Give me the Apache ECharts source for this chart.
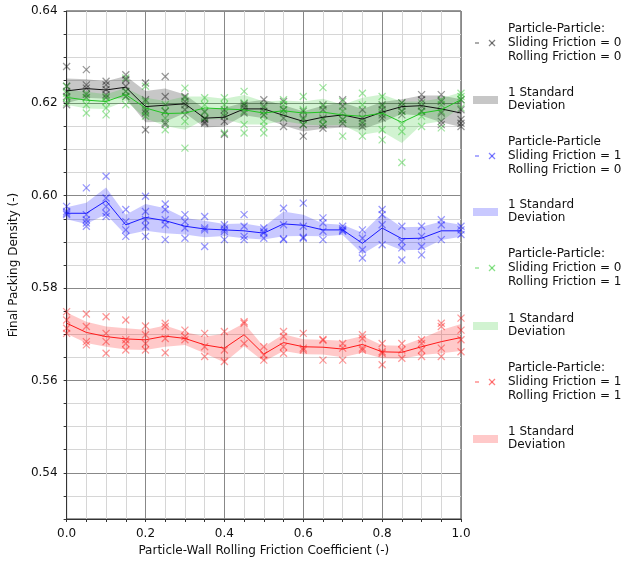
<!DOCTYPE html>
<html>
<head>
<meta charset="utf-8">
<script src="https://cdn.jsdelivr.net/npm/echarts@6/dist/echarts.min.js"></script>
<style>
html,body{margin:0;padding:0;background:#fff;}
#c{width:629px;height:562px;}
</style>
</head>
<body>
<div id="c"></div>
<script>
// ---- DATA ----
const xValues = [0, 0.05, 0.1, 0.15, 0.2, 0.25, 0.3, 0.35, 0.4, 0.45, 0.5, 0.55, 0.6, 0.65, 0.7, 0.75, 0.8, 0.85, 0.9, 0.95, 1.0];

// Sliding 0 / Rolling 0 (black)
const blackMean = [0.6227, 0.6232, 0.6229, 0.6235, 0.6193, 0.6196, 0.6199, 0.6168, 0.6170, 0.6188, 0.6188, 0.6174, 0.6161, 0.6170, 0.6175, 0.6166, 0.6181, 0.6193, 0.6195, 0.6188, 0.6179];
const blackStd = [0.0027, 0.0020, 0.0019, 0.0024, 0.0034, 0.0036, 0.0020, 0.0020, 0.0020, 0.0014, 0.0020, 0.0022, 0.0022, 0.0025, 0.0027, 0.0022, 0.0022, 0.0016, 0.0022, 0.0029, 0.0030];
const blackSamples = [
  [0.6280, 0.6237, 0.6226, 0.6215, 0.6197],
  [0.6273, 0.6240, 0.6233, 0.6219, 0.6213],
  [0.6248, 0.6240, 0.6230, 0.6219, 0.6212],
  [0.6262, 0.6251, 0.6237, 0.6226, 0.6215],
  [0.6244, 0.6208, 0.6186, 0.6179, 0.6143],
  [0.6258, 0.6215, 0.6183, 0.6158, 0.6154],
  [0.6215, 0.6204, 0.6197, 0.6186, 0.6175],
  [0.6181, 0.6167, 0.6160, 0.6157, 0.6165],
  [0.6186, 0.6172, 0.6161, 0.6133],
  [0.6199, 0.6196, 0.6190, 0.6179],
  [0.6208, 0.6194, 0.6183, 0.6175],
  [0.6204, 0.6186, 0.6168, 0.6150],
  [0.6183, 0.6168, 0.6154, 0.6129],
  [0.6197, 0.6186, 0.6168, 0.6154, 0.6146],
  [0.6208, 0.6194, 0.6165, 0.6157],
  [0.6186, 0.6168, 0.6157, 0.6150],
  [0.6197, 0.6186, 0.6175, 0.6168],
  [0.6201, 0.6194, 0.6183, 0.6175],
  [0.6219, 0.6208, 0.6194, 0.6183],
  [0.6219, 0.6204, 0.6179, 0.6161, 0.6154],
  [0.6208, 0.6186, 0.6165, 0.6157, 0.6150]
];

// Sliding 1 / Rolling 0 (blue)
const blueMean = [0.5962, 0.5962, 0.5989, 0.5937, 0.5953, 0.5946, 0.5934, 0.5928, 0.5926, 0.5924, 0.5919, 0.5939, 0.5936, 0.5926, 0.5926, 0.5897, 0.5930, 0.5907, 0.5908, 0.5924, 0.5924];
const blueStd = [0.0013, 0.0023, 0.0029, 0.0022, 0.0029, 0.0027, 0.0018, 0.0018, 0.0013, 0.0016, 0.0014, 0.0027, 0.0023, 0.0014, 0.0011, 0.0023, 0.0031, 0.0025, 0.0025, 0.0020, 0.0013];
const blueSamples = [
  [0.5977, 0.5966, 0.5959, 0.5962],
  [0.6017, 0.5959, 0.5948, 0.5941, 0.5934],
  [0.6042, 0.5995, 0.5977, 0.5962, 0.5955],
  [0.5970, 0.5944, 0.5926, 0.5912],
  [0.5999, 0.5966, 0.5948, 0.5934, 0.5912],
  [0.5982, 0.5970, 0.5948, 0.5937, 0.5905],
  [0.5959, 0.5944, 0.5930, 0.5908],
  [0.5955, 0.5926, 0.5890, 0.5930],
  [0.5937, 0.5923, 0.5905, 0.5928],
  [0.5959, 0.5934, 0.5905, 0.5912],
  [0.5930, 0.5919, 0.5908, 0.5922],
  [0.5973, 0.5937, 0.5905, 0.5907],
  [0.5984, 0.5934, 0.5908, 0.5910],
  [0.5952, 0.5941, 0.5923, 0.5905],
  [0.5934, 0.5923, 0.5928, 0.5925],
  [0.5926, 0.5908, 0.5883, 0.5865],
  [0.5970, 0.5959, 0.5937, 0.5894],
  [0.5934, 0.5901, 0.5887, 0.5861],
  [0.5934, 0.5912, 0.5890, 0.5872],
  [0.5948, 0.5937, 0.5905],
  [0.5934, 0.5926, 0.5916]
];

// Sliding 0 / Rolling 1 (green)
const greenMean = [0.6213, 0.6207, 0.6204, 0.6219, 0.6190, 0.6178, 0.6179, 0.6190, 0.6188, 0.6186, 0.6179, 0.6184, 0.6179, 0.6181, 0.6175, 0.6172, 0.6179, 0.6159, 0.6179, 0.6186, 0.6208];
const greenStd = [0.0016, 0.0018, 0.0016, 0.0014, 0.0022, 0.0027, 0.0036, 0.0025, 0.0022, 0.0032, 0.0025, 0.0022, 0.0025, 0.0029, 0.0022, 0.0040, 0.0040, 0.0045, 0.0025, 0.0025, 0.0016];
const greenSamples = [
  [0.6237, 0.6222, 0.6212, 0.6201],
  [0.6222, 0.6212, 0.6197, 0.6179],
  [0.6215, 0.6204, 0.6190, 0.6175],
  [0.6255, 0.6226, 0.6215, 0.6197],
  [0.6237, 0.6204, 0.6183, 0.6172],
  [0.6197, 0.6183, 0.6168, 0.6143],
  [0.6233, 0.6212, 0.6161, 0.6103],
  [0.6212, 0.6197, 0.6183, 0.6168],
  [0.6212, 0.6197, 0.6179, 0.6136],
  [0.6226, 0.6201, 0.6183, 0.6154, 0.6136],
  [0.6190, 0.6175, 0.6161, 0.6150, 0.6136],
  [0.6208, 0.6197, 0.6186, 0.6179],
  [0.6215, 0.6186, 0.6165, 0.6154],
  [0.6234, 0.6194, 0.6165, 0.6154],
  [0.6204, 0.6183, 0.6165, 0.6129],
  [0.6222, 0.6197, 0.6161, 0.6129],
  [0.6215, 0.6194, 0.6179, 0.6143, 0.6121],
  [0.6201, 0.6183, 0.6154, 0.6139, 0.6072],
  [0.6201, 0.6183, 0.6172, 0.6150],
  [0.6208, 0.6197, 0.6183, 0.6147],
  [0.6222, 0.6215, 0.6208, 0.6190]
];

// Sliding 1 / Rolling 1 (red)
const redMean = [0.5724, 0.5704, 0.5695, 0.5690, 0.5688, 0.5696, 0.5691, 0.5677, 0.5670, 0.5699, 0.5657, 0.5682, 0.5673, 0.5672, 0.5668, 0.5678, 0.5662, 0.5661, 0.5673, 0.5684, 0.5693];
const redStd = [0.0023, 0.0023, 0.0022, 0.0023, 0.0022, 0.0023, 0.0014, 0.0018, 0.0031, 0.0025, 0.0016, 0.0018, 0.0016, 0.0016, 0.0018, 0.0018, 0.0014, 0.0014, 0.0018, 0.0025, 0.0029];
const redSamples = [
  [0.5749, 0.5731, 0.5713, 0.5702],
  [0.5744, 0.5717, 0.5684, 0.5677],
  [0.5738, 0.5702, 0.5684, 0.5659],
  [0.5731, 0.5688, 0.5680, 0.5666],
  [0.5718, 0.5699, 0.5680, 0.5666],
  [0.5724, 0.5717, 0.5691, 0.5660],
  [0.5709, 0.5695, 0.5688],
  [0.5702, 0.5673, 0.5652],
  [0.5706, 0.5666, 0.5641],
  [0.5727, 0.5724, 0.5680],
  [0.5673, 0.5655, 0.5644],
  [0.5706, 0.5695, 0.5673, 0.5659],
  [0.5702, 0.5670, 0.5666],
  [0.5689, 0.5687, 0.5644],
  [0.5680, 0.5670, 0.5644],
  [0.5699, 0.5691, 0.5670, 0.5666],
  [0.5680, 0.5662, 0.5659, 0.5634],
  [0.5680, 0.5666, 0.5648],
  [0.5688, 0.5680, 0.5666, 0.5652],
  [0.5724, 0.5717, 0.5670, 0.5652],
  [0.5735, 0.5709, 0.5688, 0.5662]
];

const yTickLabels = ['0.54', '0.56', '0.58', '0.60', '0.62', '0.64'];
const xTickLabels = ['0.0', '0.2', '0.4', '0.6', '0.8', '1.0'];

const legendTitles = [
  'Particle-Particle:\nSliding Friction = 0\nRolling Friction = 0',
  'Particle-Particle\nSliding Friction = 1\nRolling Friction = 0',
  'Particle-Particle:\nSliding Friction = 0\nRolling Friction = 1',
  'Particle-Particle:\nSliding Friction = 1\nRolling Friction = 1'
];
const bandLabel = '1 Standard\nDeviation';

// ---- STYLE ----
const FONT = 'DejaVu Sans';
const groups = [
  {mean: blackMean, std: blackStd, samples: blackSamples, line: '#111111', marker: 'rgba(0,0,0,0.5)', band: 'rgba(0,0,0,0.22)'},
  {mean: blueMean, std: blueStd, samples: blueSamples, line: '#1a1aff', marker: 'rgba(0,0,255,0.5)', band: 'rgba(0,0,255,0.21)'},
  {mean: greenMean, std: greenStd, samples: greenSamples, line: '#22c422', marker: 'rgba(40,200,40,0.55)', band: 'rgba(40,200,40,0.21)'},
  {mean: redMean, std: redStd, samples: redSamples, line: '#ff1a1a', marker: 'rgba(255,0,0,0.5)', band: 'rgba(255,0,0,0.21)'}
];

const crossPath = 'path://M0,0L10,10M0,10L10,0';
const series = [];
groups.forEach((g, k) => {
  const pts = [];
  g.samples.forEach((arr, i) => arr.forEach(v => pts.push([xValues[i], v])));
  series.push({
    type: 'scatter', data: pts, symbol: crossPath, symbolSize: 7, silent: true, z: 2,
    itemStyle: {color: 'rgba(0,0,0,0)', borderColor: g.marker, borderWidth: 1.3}
  });
  const bandData = xValues.map((x, i) => [x, g.mean[i] - g.std[i], g.mean[i] + g.std[i]]);
  series.push({
    type: 'custom', data: bandData, silent: true, z: 3,
    encode: {x: 0, y: [1, 2]},
    renderItem: function (params, api) {
      if (params.dataIndex !== 0) return null;
      const upper = bandData.map(d => api.coord([d[0], d[2]]));
      const lower = bandData.map(d => api.coord([d[0], d[1]])).reverse();
      return {type: 'polygon', shape: {points: upper.concat(lower)}, style: {fill: g.band, stroke: null}};
    }
  });
  series.push({
    type: 'line', data: xValues.map((x, i) => [x, g.mean[i]]),
    symbol: 'none', lineStyle: {width: 1, color: g.line}, silent: true, z: 4
  });
});

// legend graphics
const graphics = [];
const legendTops = [22, 135, 247, 361];
const bandTops = [86, 198, 312, 425];
groups.forEach((g, k) => {
  const t = legendTops[k];
  const my = t + 21;
  graphics.push({type: 'text', left: 508, top: t, style: {text: legendTitles[k], font: '12px "' + FONT + '"', lineHeight: 14, fill: '#111'}});
  graphics.push({type: 'line', shape: {x1: 475, y1: my, x2: 479, y2: my}, style: {stroke: g.marker, lineWidth: 1.3}});
  graphics.push({type: 'line', shape: {x1: 489, y1: my - 3, x2: 495, y2: my + 3}, style: {stroke: g.marker, lineWidth: 1.2}});
  graphics.push({type: 'line', shape: {x1: 489, y1: my + 3, x2: 495, y2: my - 3}, style: {stroke: g.marker, lineWidth: 1.2}});
  const bt = bandTops[k];
  graphics.push({type: 'rect', shape: {x: 473, y: bt + 10, width: 25, height: 8}, style: {fill: g.band}});
  graphics.push({type: 'text', left: 508, top: bt, style: {text: bandLabel, font: '12px "' + FONT + '"', lineHeight: 13.5, fill: '#111'}});
});

const MAJ = '#888888', MIN = '#d6d6d6';
const isOn = (v, step) => Math.abs(Math.round(v / step) * step - v) < 1e-7;

const option = {
  animation: false,
  backgroundColor: '#fff',
  textStyle: {fontFamily: FONT},
  grid: {left: 62, right: 168, top: 11, bottom: 43, show: true, borderColor: '#333', borderWidth: 1, backgroundColor: 'transparent'},
  xAxis: {
    type: 'value', min: 0, max: 1, interval: 0.05,
    name: 'Particle-Wall Rolling Friction Coefficient (-)', nameLocation: 'middle', nameGap: 25,
    nameTextStyle: {fontFamily: FONT, fontSize: 12, color: '#111'},
    axisLine: {show: true, lineStyle: {color: '#333'}},
    axisTick: {show: true, length: 3, inside: false, lineStyle: {color: '#333'}},
    axisLabel: {fontFamily: FONT, fontSize: 12, color: '#111', margin: 9,
      formatter: v => { const i = xTickLabels.indexOf(v.toFixed(1)); return (isOn(v, 0.2) && i >= 0) ? xTickLabels[i] : ''; }},
    splitLine: {show: true, lineStyle: {color: [MAJ, MIN, MIN, MIN], width: 1}}
  },
  yAxis: {
    type: 'value', min: 0.53, max: 0.64, interval: 0.005,
    name: 'Final Packing Density (-)', nameLocation: 'middle', nameGap: 41,
    nameTextStyle: {fontFamily: FONT, fontSize: 12, color: '#111'},
    axisLine: {show: true, lineStyle: {color: '#333'}},
    axisTick: {show: true, length: 3, inside: false, lineStyle: {color: '#333'}},
    axisLabel: {fontFamily: FONT, fontSize: 12, color: '#111', margin: 9,
      formatter: v => { const i = yTickLabels.indexOf(v.toFixed(2)); return (isOn(v, 0.02) && i >= 0) ? yTickLabels[i] : ''; }},
    splitLine: {show: true, lineStyle: {color: [MIN, MIN, MAJ, MIN], width: 1}}
  },
  series: series,
  graphic: graphics
};

const chart = echarts.init(document.getElementById('c'));
chart.setOption(option);
</script>
</body>
</html>
